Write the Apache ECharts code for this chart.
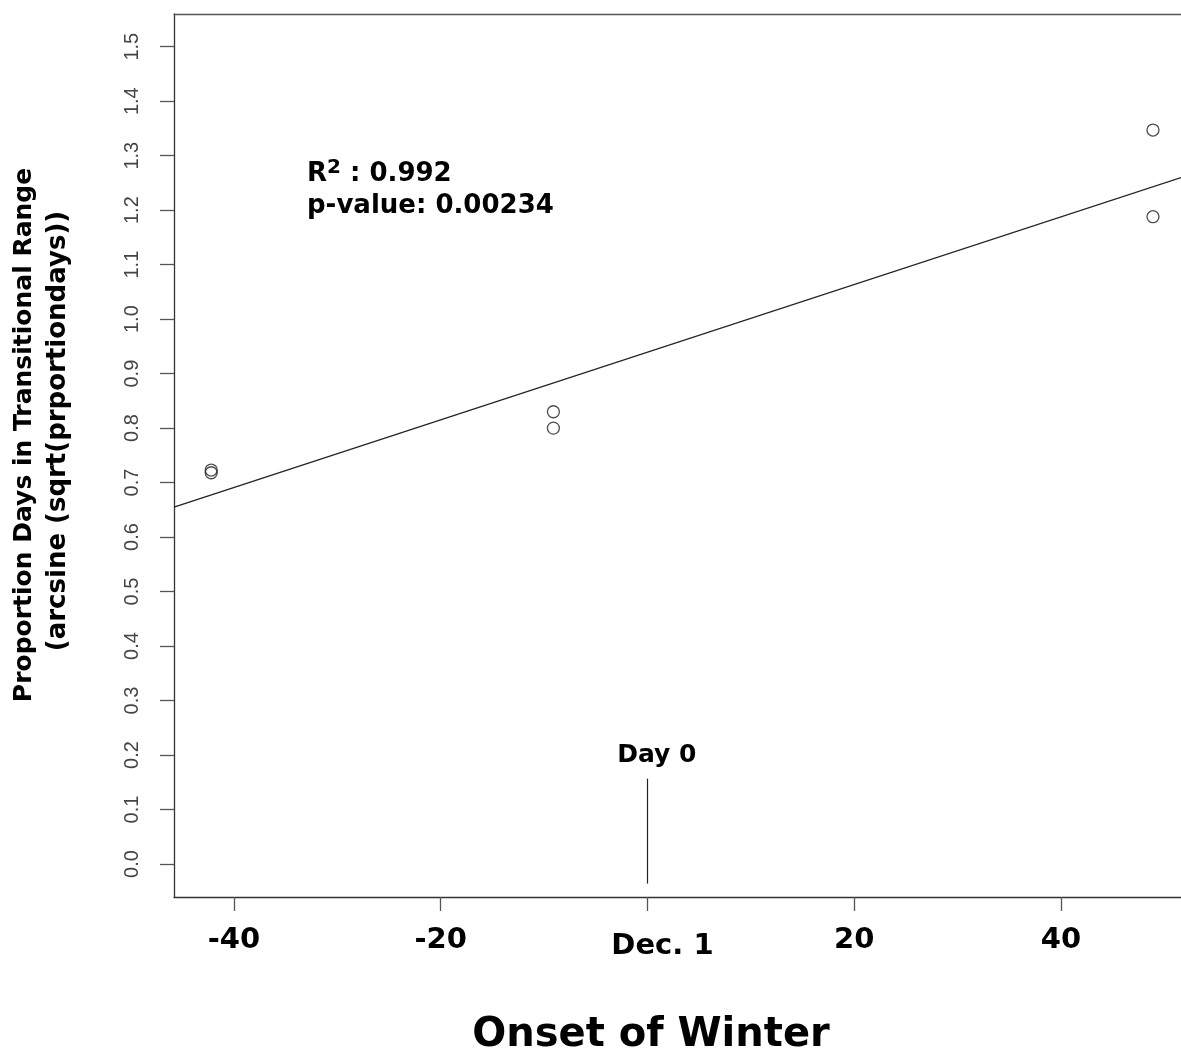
<!DOCTYPE html>
<html>
<head>
<meta charset="utf-8">
<script src="https://cdn.jsdelivr.net/npm/echarts@6/dist/echarts.min.js"></script>
<style>
html, body { margin: 0; padding: 0; background: #fff; }
#chart { width: 1181px; height: 1055px; }
</style>
</head>
<body>
<div id="chart"></div>
<script>
// --- data ---
// onset of winter, days relative to Dec. 1
const onsetDays = [-42.2, -42.2, -9.1, -9.1, 48.9, 48.9]
// proportion days in transitional range, arcsine(sqrt(p))
const propDays  = [0.723, 0.718, 0.830, 0.800, 1.347, 1.188]

// --- axes ---
const xTicks = [-40, -20, 0, 20, 40]
const yTicks = [0, 0.1, 0.2, 0.3, 0.4, 0.5, 0.6, 0.7, 0.8, 0.9, 1.0, 1.1, 1.2, 1.3, 1.4, 1.5]
const X_MIN = -45.8, X_MAX = 51.61
const Y_MIN = -0.0606, Y_MAX = 1.56

// --- Day 0 marker and stats ---
const dayZeroX = 0
const dayZeroSpan = [0.1565, -0.036]
const r2Value = '0.992'
const pValue  = '0.00234'

// least squares fit of the points
function fitLine(xs, ys) {
  const n = xs.length
  const mx = xs.reduce((a, b) => a + b, 0) / n
  const my = ys.reduce((a, b) => a + b, 0) / n
  let sxy = 0, sxx = 0
  for (let i = 0; i < n; i++) {
    sxy += (xs[i] - mx) * (ys[i] - my)
    sxx += (xs[i] - mx) * (xs[i] - mx)
  }
  const slope = sxy / sxx
  return { slope, icept: my - slope * mx }
}

const fit = fitLine(onsetDays, propDays)
const fitData = [X_MIN, X_MAX].map(x => [x, fit.icept + fit.slope * x])
const points = onsetDays.map((x, i) => [x, propDays[i]])

const BOLD = 'DejaVu Sans'
const AXIS_COLOR = '#333'

const chart = echarts.init(document.getElementById('chart'))
chart.setOption({
  animation: false,
  backgroundColor: '#fff',
  grid: { left: 174, top: 14, right: 0, bottom: 158 },
  xAxis: [
    {
      type: 'value', min: X_MIN, max: X_MAX,
      splitLine: { show: false },
      axisLine: { show: true, onZero: false, lineStyle: { color: AXIS_COLOR, width: 1.3 } },
      axisTick: { show: true, customValues: xTicks, length: 14, lineStyle: { color: '#555', width: 1.3 } },
      axisLabel: {
        customValues: xTicks,
        formatter: v => (v === 0 ? '{d|Dec. 1}' : String(v)),
        fontFamily: BOLD, fontWeight: 'bold', fontSize: 29, color: '#000', margin: 29,
        rich: {
          d: { fontFamily: BOLD, fontWeight: 'bold', fontSize: 29, color: '#000', padding: [6, 0, 0, 30] }
        }
      }
    },
    {
      // top frame line only
      type: 'value', position: 'top', min: X_MIN, max: X_MAX,
      splitLine: { show: false },
      axisLine: { show: true, onZero: false, lineStyle: { color: '#555', width: 1.3 } },
      axisTick: { show: false },
      axisLabel: { show: false }
    }
  ],
  yAxis: {
    type: 'value', min: Y_MIN, max: Y_MAX,
    splitLine: { show: false },
    axisLine: { show: true, onZero: false, lineStyle: { color: AXIS_COLOR, width: 1.3 } },
    axisTick: { show: true, customValues: yTicks, length: 14, lineStyle: { color: '#555', width: 1.3 } },
    axisLabel: {
      customValues: yTicks,
      formatter: v => v.toFixed(1),
      rotate: 90,
      fontFamily: 'Liberation Sans', fontSize: 20, color: '#444', margin: 32
    }
  },
  graphic: [
    {
      type: 'text', x: 24, y: 435, rotation: Math.PI / 2,
      style: {
        text: 'Proportion Days in Transitional Range',
        align: 'center', verticalAlign: 'middle',
        font: 'bold 25px "DejaVu Sans"', fill: '#000'
      }
    },
    {
      type: 'text', x: 58, y: 431, rotation: Math.PI / 2,
      style: {
        text: '(arcsine (sqrt(prportiondays))',
        align: 'center', verticalAlign: 'middle',
        font: 'bold 26px "DejaVu Sans"', fill: '#000'
      }
    },
    {
      type: 'text', x: 651, y: 1036,
      style: {
        text: 'Onset of Winter', align: 'center', verticalAlign: 'middle',
        font: 'bold 40px "DejaVu Sans"', fill: '#000'
      }
    },
    {
      type: 'text', x: 307, y: 158,
      style: {
        text: '{r|R}{s|2}{r| : ' + r2Value + '}',
        rich: {
          r: { fontFamily: BOLD, fontWeight: 'bold', fontSize: 26, lineHeight: 32, fill: '#000' },
          s: { fontFamily: BOLD, fontWeight: 'bold', fontSize: 20, verticalAlign: 'top', lineHeight: 20, fill: '#000' }
        }
      }
    },
    {
      type: 'text', x: 307, y: 193,
      style: {
        text: 'p-value: ' + pValue,
        font: 'bold 26px "DejaVu Sans"', fill: '#000'
      }
    }
  ],
  series: [
    {
      type: 'scatter',
      data: points,
      symbol: 'circle', symbolSize: 12,
      itemStyle: { color: 'rgba(0,0,0,0)', borderColor: '#222', borderWidth: 1.3 }
    },
    {
      type: 'line',
      data: fitData,
      symbol: 'none',
      lineStyle: { color: '#222', width: 1.3 },
      markLine: {
        silent: true, symbol: ['none', 'none'],
        label: { show: false },
        lineStyle: { type: 'solid', color: '#222', width: 1.2 },
        data: [[{ coord: [dayZeroX, dayZeroSpan[0]] }, { coord: [dayZeroX, dayZeroSpan[1]] }]]
      },
      markPoint: {
        silent: true, symbol: 'circle', symbolSize: 1,
        itemStyle: { color: 'rgba(0,0,0,0)' },
        label: {
          show: true, position: 'inside', formatter: 'Day 0',
          fontFamily: BOLD, fontWeight: 'bold', fontSize: 25, color: '#000'
        },
        data: [{ coord: [0.9, 0.2] }]
      }
    }
  ]
})
</script>
</body>
</html>
